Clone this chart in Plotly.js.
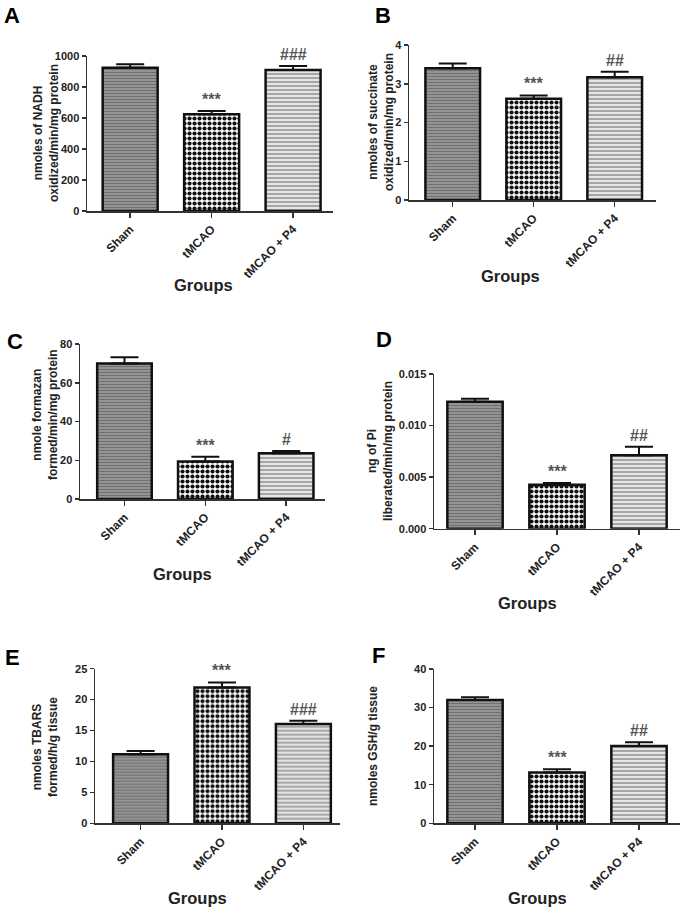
<!DOCTYPE html>
<html>
<head>
<meta charset="utf-8">
<script src="https://cdn.plot.ly/plotly-3.0.1.min.js"></script>
<style>html,body{margin:0;padding:0;background:#fff;}#chart{width:683px;height:912px;}</style>
</head>
<body>
<div id="chart"></div>
<script>
// ---- data ----
const groups = ["Sham", "tMCAO", "tMCAO + P4"];

const nadhMean = [925, 624, 910];
const nadhSem  = [21, 21, 25];
const nadhSig  = ["", "***", "###"];

const succMean = [3.40, 2.61, 3.17];
const succSem  = [0.12, 0.09, 0.14];
const succSig  = ["", "***", "##"];

const formMean = [70.0, 19.3, 23.6];
const formSem  = [3.1, 2.5, 1.2];
const formSig  = ["", "***", "#"];

const piMean = [0.0123, 0.00427, 0.00712];
const piSem  = [0.0003, 0.00017, 0.00083];
const piSig  = ["", "***", "##"];

const tbarsMean = [11.15, 21.98, 16.05];
const tbarsSem  = [0.55, 0.8, 0.55];
const tbarsSig  = ["", "***", "###"];

const gshMean = [31.96, 13.2, 20.04];
const gshSem  = [0.74, 0.8, 0.96];
const gshSig  = ["", "***", "##"];

const panelLetters = ["A", "B", "C", "D", "E", "F"];
const yTitles = [
  "nmoles of NADH<br>oxidized/min/mg protein",
  "nmoles of succinate<br>oxidized/min/mg protein",
  "nmole formazan<br>formed/min/mg protein",
  "ng of Pi<br>liberated/min/mg protein",
  "nmoles TBARS<br>formed/h/g tissue",
  "nmoles GSH/g tissue"
];
const xTitle = "Groups";

// ---- layout helpers ----
const W = 683, H = 912;
const px = v => v / W;
const py = v => 1 - v / H;

const panels = [
  {mean: nadhMean, sem: nadhSem, sig: nadhSig, xd: [87, 333], yd: [56, 211], xr: [-0.53, 2.49], yr: [0, 1000], dt: 200, fmt: "",
   letter: [12, 15], ytl: [46, 133], grp: [203, 285]},
  {mean: succMean, sem: succSem, sig: succSig, xd: [409, 656], yd: [45, 200], xr: [-0.54, 2.51], yr: [0, 4], dt: 1, fmt: "",
   letter: [383, 15], ytl: [381, 122], grp: [510, 276]},
  {mean: formMean, sem: formSem, sig: formSig, xd: [80, 325], yd: [344, 499], xr: [-0.55, 2.48], yr: [0, 80], dt: 20, fmt: "",
   letter: [15, 341], ytl: [45, 415], grp: [182, 574]},
  {mean: piMean, sem: piSem, sig: piSig, xd: [434, 680], yd: [374, 528.7], xr: [-0.5, 2.5], yr: [0, 0.015], dt: 0.005, fmt: ".3f",
   letter: [384, 340], ytl: [380, 451], grp: [527, 603]},
  {mean: tbarsMean, sem: tbarsSem, sig: tbarsSig, xd: [95, 340], yd: [668.7, 823.3], xr: [-0.56, 2.45], yr: [0, 25], dt: 5, fmt: "",
   letter: [12, 657], ytl: [45, 747], grp: [197, 898]},
  {mean: gshMean, sem: gshSem, sig: gshSig, xd: [434, 680], yd: [669, 823.3], xr: [-0.5, 2.5], yr: [0, 40], dt: 10, fmt: "",
   letter: [378, 655], ytl: [373, 746], grp: [537, 898]}
];

const patterns = [
  {shape: "-", bgcolor: "#a0a0a0", fgcolor: "#707070", size: 3, solidity: 0.5, fillmode: "replace"},
  {shape: ".", bgcolor: "#ffffff", fgcolor: "#111111", size: 5, solidity: 0.55, fillmode: "replace"},
  {shape: "-", bgcolor: "#e4e4e4", fgcolor: "#8c8c8c", size: 4, solidity: 0.35, fillmode: "replace"}
];

const traces = [];
const layout = {
  width: W, height: H,
  margin: {l: 0, r: 0, t: 0, b: 0},
  paper_bgcolor: "#fff", plot_bgcolor: "rgba(0,0,0,0)",
  showlegend: false,
  font: {family: "Liberation Sans, Arial, sans-serif", color: "#222"},
  annotations: []
};

const yTickFont = {family: "Liberation Sans, Arial, sans-serif", size: 11, color: "#222", weight: "bold"};
const xTickFont = {family: "Liberation Sans, Arial, sans-serif", size: 12, color: "#222", weight: "bold"};

panels.forEach((p, i) => {
  const n = i + 1;
  const xa = "x" + (n === 1 ? "" : n), ya = "y" + (n === 1 ? "" : n);
  const xk = "xaxis" + (n === 1 ? "" : n), yk = "yaxis" + (n === 1 ? "" : n);
  groups.forEach((g, j) => {
    traces.push({
      type: "bar", x: [j], y: [p.mean[j]], xaxis: xa, yaxis: ya, width: 0.675,
      marker: {color: patterns[j].bgcolor, pattern: patterns[j], line: {color: "#111", width: 2.5}},
      error_y: {type: "data", symmetric: false, array: [p.sem[j]], arrayminus: [0], color: "#111", thickness: 2, width: 14},
      hoverinfo: "skip"
    });
    if (p.sig[j]) {
      layout.annotations.push({
        xref: xa, yref: ya, x: j, y: p.mean[j] + p.sem[j], yanchor: "bottom", yshift: 1,
        text: p.sig[j], showarrow: false,
        font: {family: "Liberation Sans, Arial, sans-serif", size: 16, color: "#555", weight: "bold"}
      });
    }
  });
  layout[xk] = {
    domain: [px(p.xd[0]), px(p.xd[1])], anchor: ya, range: p.xr,
    tickvals: [0, 1, 2], ticktext: groups, tickangle: -45,
    ticks: "outside", ticklen: 5, tickwidth: 1.5, tickcolor: "#333",
    showline: true, linecolor: "#333", linewidth: 1.5, showgrid: false, zeroline: false,
    tickfont: xTickFont, fixedrange: true
  };
  layout[yk] = {
    domain: [py(p.yd[1]), py(p.yd[0])], anchor: xa, range: p.yr, dtick: p.dt, tick0: 0,
    tickformat: p.fmt,
    ticks: "outside", ticklen: 4, tickwidth: 1.5, tickcolor: "#333",
    showline: true, linecolor: "#333", linewidth: 1.5, showgrid: false, zeroline: false,
    tickfont: yTickFont, fixedrange: true
  };
  layout.annotations.push({
    xref: "paper", yref: "paper", x: px(p.letter[0]), y: py(p.letter[1]),
    xanchor: "center", yanchor: "middle", text: panelLetters[i], showarrow: false,
    font: {family: "Liberation Sans, Arial, sans-serif", size: 22, color: "#000", weight: "bold"}
  });
  layout.annotations.push({
    xref: "paper", yref: "paper", x: px(p.ytl[0]), y: py(p.ytl[1]),
    xanchor: "center", yanchor: "middle", textangle: -90, text: yTitles[i], showarrow: false,
    font: {family: "Liberation Sans, Arial, sans-serif", size: 12, color: "#222", weight: "bold"}
  });
  layout.annotations.push({
    xref: "paper", yref: "paper", x: px(p.grp[0]), y: py(p.grp[1]),
    xanchor: "center", yanchor: "middle", text: xTitle, showarrow: false,
    font: {family: "Liberation Sans, Arial, sans-serif", size: 16.5, color: "#222", weight: "bold"}
  });
});

Plotly.newPlot("chart", traces, layout, {staticPlot: true, displayModeBar: false});
</script>
</body>
</html>
